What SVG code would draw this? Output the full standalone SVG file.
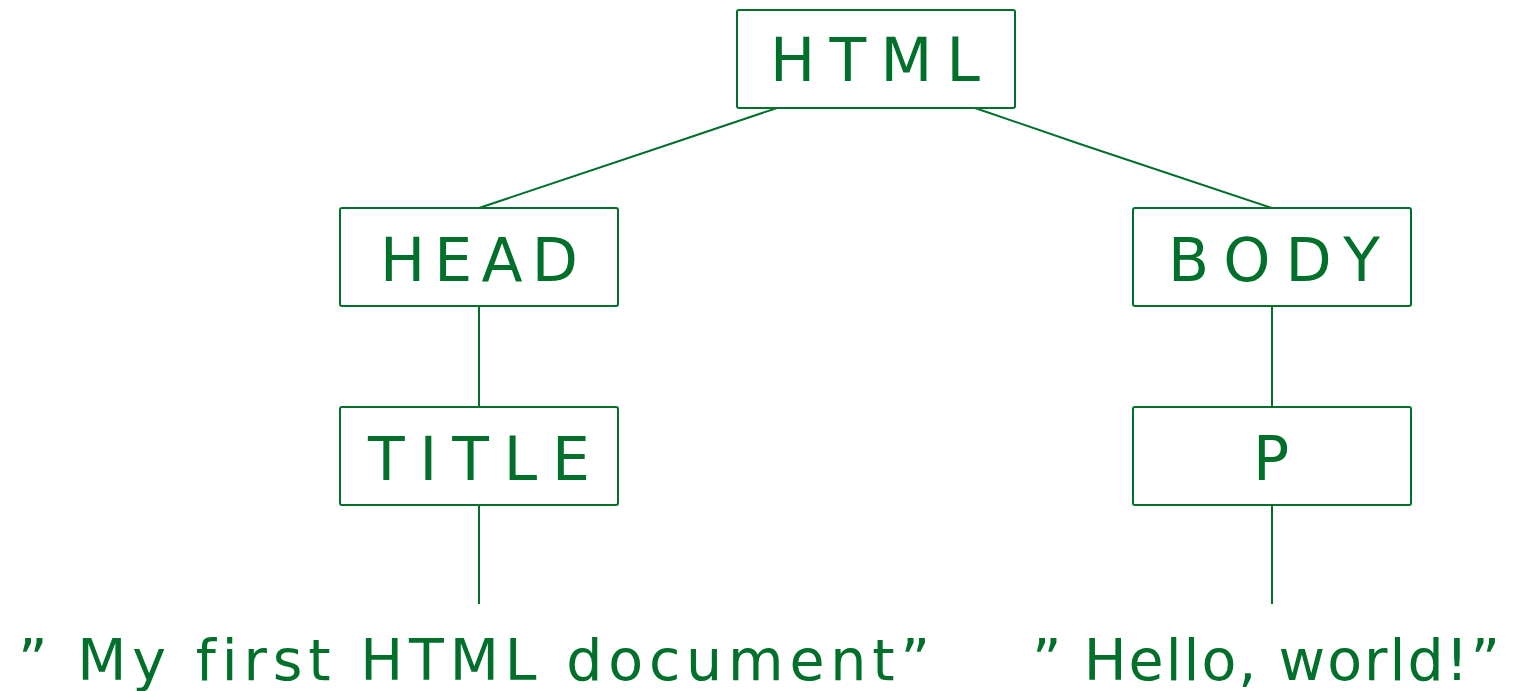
<svg xmlns="http://www.w3.org/2000/svg" width="1513" height="691" viewBox="0 0 1513 691">
<style>
.box{fill:#fff;stroke:#00702a;stroke-width:2}
.lbl{font-family:"DejaVu Sans","Liberation Sans",sans-serif;font-size:60px;fill:#00702a;font-variant-ligatures:none}
.leaf{font-family:"DejaVu Sans","Liberation Sans",sans-serif;font-size:57px;fill:#00702a;font-variant-ligatures:none}
.edge{stroke:#00702a;stroke-width:2;fill:none}
</style>
<rect width="1513" height="691" fill="#fff"/>
<g id="connectors">
<polyline class="edge" points="777,108 670,144 479,208"/>
<polyline class="edge" points="975,108 1080,144 1272,208"/>
<line class="edge" x1="479" y1="306" x2="479" y2="407"/>
<line class="edge" x1="479" y1="505" x2="479" y2="604"/>
<line class="edge" x1="1272" y1="306" x2="1272" y2="407"/>
<line class="edge" x1="1272" y1="505" x2="1272" y2="604"/>
</g>
<g id="html"><rect class="box" x="737" y="10" width="278" height="98" rx="2"/><text class="lbl" x="770" y="81" textLength="210" lengthAdjust="spacing">HTML</text></g>
<g id="head"><rect class="box" x="340" y="208" width="278" height="98" rx="2"/><text class="lbl" x="380" y="281" textLength="198" lengthAdjust="spacing">HEAD</text></g>
<g id="body"><rect class="box" x="1133" y="208" width="278" height="98" rx="2"/><text class="lbl" x="1168" y="281" textLength="212" lengthAdjust="spacing">BODY</text></g>
<g id="title"><rect class="box" x="340" y="407" width="278" height="98" rx="2"/><text class="lbl" x="368" y="480" textLength="222" lengthAdjust="spacing">TITLE</text></g>
<g id="p"><rect class="box" x="1133" y="407" width="278" height="98" rx="2"/><text class="lbl" x="1253" y="480">P</text></g>
<g id="leaf-title"><text class="leaf" x="18" y="680" textLength="912" lengthAdjust="spacing">” My first HTML document”</text></g>
<g id="leaf-p"><text class="leaf" x="1032" y="680" textLength="468" lengthAdjust="spacing">” Hello, world!”</text></g>
</svg>
